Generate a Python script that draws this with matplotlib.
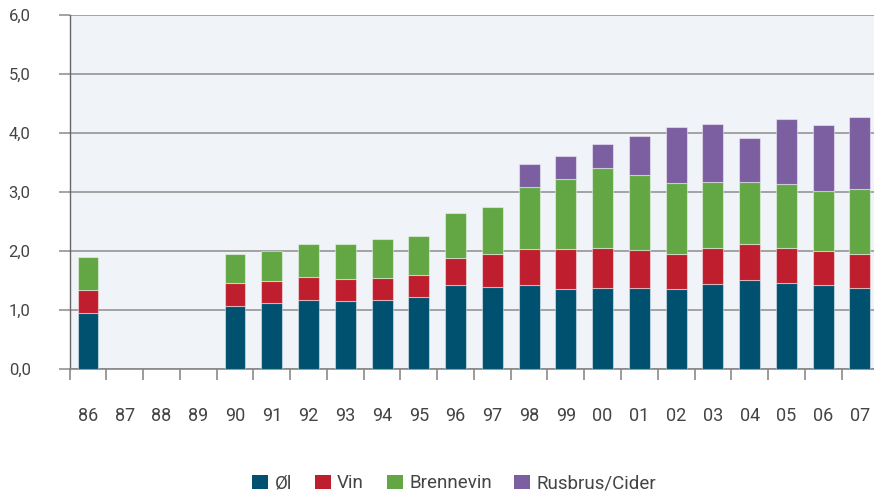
import numpy as np
import matplotlib
matplotlib.use("Agg")
import matplotlib.pyplot as plt
from matplotlib.patches import Patch

years = ["86", "87", "88", "89", "90", "91", "92", "93", "94", "95", "96",
         "97", "98", "99", "00", "01", "02", "03", "04", "05", "06", "07"]
ol = [0.96, None, None, None, 1.08, 1.12, 1.17, 1.16, 1.18, 1.22, 1.42,
      1.40, 1.42, 1.36, 1.38, 1.37, 1.36, 1.45, 1.52, 1.46, 1.43, 1.38]
vin = [0.38, None, None, None, 0.38, 0.38, 0.39, 0.37, 0.37, 0.38, 0.47,
       0.55, 0.62, 0.68, 0.68, 0.65, 0.60, 0.60, 0.60, 0.60, 0.58, 0.57]
brennevin = [0.56, None, None, None, 0.49, 0.50, 0.56, 0.59, 0.65, 0.66, 0.75,
             0.80, 1.04, 1.19, 1.35, 1.27, 1.20, 1.13, 1.06, 1.07, 1.01, 1.10]
rusbrus = [None, None, None, None, None, None, None, None, None, None, None,
           None, 0.39, 0.39, 0.41, 0.66, 0.94, 0.98, 0.74, 1.11, 1.11, 1.23]
series_names = ["Øl", "Vin", "Brennevin", "Rusbrus/Cider"]
colors = ["#00506F", "#BE1E2D", "#62A744", "#7B5FA1"]
yticks = [0, 1, 2, 3, 4, 5, 6]

def arr(v):
    return np.array([np.nan if x is None else x for x in v], dtype=float)

data = [arr(ol), arr(vin), arr(brennevin), arr(rusbrus)]

plt.rcParams['font.family'] = ['Roboto', 'DejaVu Sans']
fig = plt.figure(figsize=(8.74, 4.92), dpi=100)
W, H = 874, 492
left, right, top, bot = 69.6, 878.3, 15, 369.3
ax = fig.add_axes([left/W, 1-bot/H, (right-left)/W, (bot-top)/H])
ax.set_facecolor("#F0F4F8")

x = np.arange(len(years))
bottom = np.zeros(len(years))
for vals, c in zip(data, colors):
    ax.bar(x, vals, 0.57, bottom=bottom, color=c, edgecolor=(1, 1, 1, 0.45),
           linewidth=0.8, zorder=3)
    bottom = bottom + np.nan_to_num(vals)

ax.set_ylim(0, 6)
ax.set_xlim(-0.5, len(years) - 0.5)
ax.set_yticks(yticks)
ax.set_yticklabels([f"{v:.1f}".replace(".", ",") for v in yticks])
ax.yaxis.grid(True, color="#9C9C9C", linewidth=1.3, zorder=1)
ax.set_axisbelow(True)

ax.set_xticks(x)
ax.set_xticklabels(years)
ax.set_xticks(np.arange(-0.5, len(years), 1.0), minor=True)
ax.tick_params(axis="x", which="major", length=0, pad=27, labelsize=13,
               labelcolor="#444444")
ax.tick_params(axis="x", which="minor", length=8, width=1.2, color="#8A8A8A")
ax.tick_params(axis="y", length=8, width=1.3, color="#9C9C9C", pad=20,
               labelsize=12, labelcolor="#444444")

for s in ["top", "right"]:
    ax.spines[s].set_visible(False)
ax.spines["left"].set_color("#666666")
ax.spines["left"].set_linewidth(1.0)
ax.spines["bottom"].set_color("#888888")
ax.spines["bottom"].set_linewidth(1.2)

handles = [Patch(facecolor=c, edgecolor="none") for c in colors]
fig.legend(handles, series_names, loc="upper center", ncol=4,
           bbox_to_anchor=(0.52, 1 - 474.5/H), frameon=False, fontsize=13.5,
           handlelength=0.85, handleheight=0.85, handletextpad=0.35,
           columnspacing=1.2, labelcolor="#444444", borderpad=0,
           borderaxespad=0)

fig.savefig("out.png", dpi=100)
